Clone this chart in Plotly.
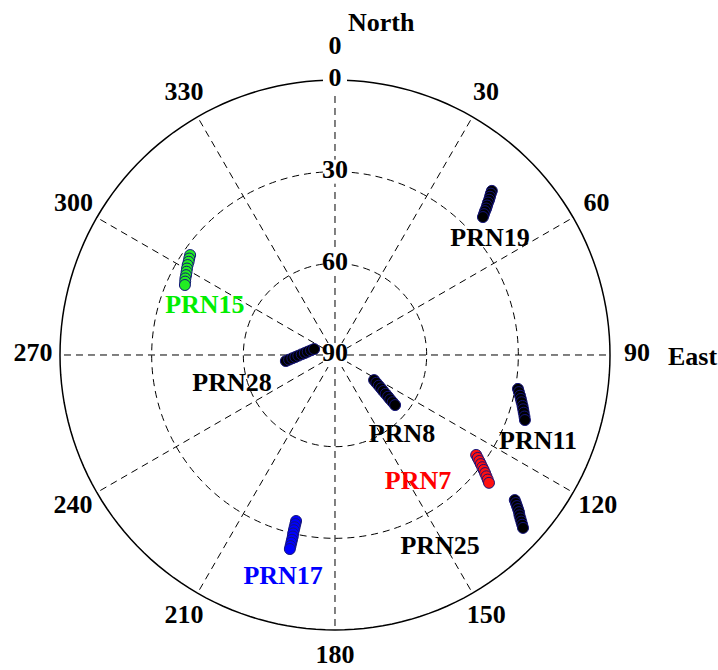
import plotly.graph_objects as go

# Satellite tracks: azimuth (deg, clockwise from North) and elevation (deg)
prn19_az = [43.7, 44.0, 44.4, 44.8, 45.1, 45.5, 45.9, 46.2, 46.6, 47.0]
prn19_el = [15.7, 16.6, 17.5, 18.4, 19.3, 20.2, 21.1, 22.0, 22.9, 23.8]

prn15_az = [304.6, 303.5, 302.5, 301.4, 300.3, 299.3, 298.2, 297.1, 296.1, 295.0]
prn15_el = [32.4, 32.8, 33.2, 33.5, 33.9, 34.3, 34.7, 35.0, 35.4, 35.8]

prn28_az = [263.0, 264.2, 265.6, 267.1, 268.9, 271.2, 273.8, 276.9, 281.0, 285.9]
prn28_el = [73.8, 74.9, 76.0, 77.0, 78.0, 79.1, 80.1, 81.0, 82.0, 82.9]

prn8_az = [122.7, 123.9, 125.0, 125.9, 126.8, 127.5, 128.2, 128.8, 129.3, 129.8]
prn8_el = [74.8, 73.7, 72.5, 71.4, 70.3, 69.1, 67.9, 66.8, 65.6, 64.4]

prn11_az = [100.5, 101.4, 102.4, 103.3, 104.2, 105.2, 106.1, 107.0, 108.0, 108.9]
prn11_el = [29.1, 28.6, 28.0, 27.5, 27.0, 26.4, 25.9, 25.4, 24.8, 24.3]

prn7_az = [125.3, 125.8, 126.3, 126.8, 127.3, 127.7, 128.2, 128.7, 129.2, 129.7]
prn7_el = [33.4, 32.4, 31.4, 30.4, 29.4, 28.5, 27.5, 26.5, 25.5, 24.5]

prn25_az = [128.9, 129.3, 129.7, 130.1, 130.5, 131.0, 131.4, 131.8, 132.2, 132.6]
prn25_el = [14.4, 13.5, 12.6, 11.7, 10.8, 10.0, 9.1, 8.2, 7.3, 6.4]

prn17_az = [193.2, 193.2, 193.2, 193.2, 193.2, 193.1, 193.1, 193.1, 193.1, 193.1]
prn17_el = [34.2, 33.2, 32.1, 31.1, 30.0, 29.0, 27.9, 26.9, 25.8, 24.8]

# Label positions (azimuth, elevation) and colours
label_names = ["PRN19", "PRN15", "PRN28", "PRN8", "PRN11", "PRN7", "PRN25", "PRN17"]
label_az = [53.4, 290.3, 253.8, 140.1, 113.4, 147.0, 151.4, 193.1]
label_el = [26.8, 44.6, 54.9, 55.8, 17.6, 40.1, 18.1, 15.1]
label_colors = ["#000000", "#00ee00", "#000000", "#000000", "#000000", "#ff0000", "#000000", "#0000ff"]

# Azimuth tick labels, written just outside the horizon circle
az_ticks = [0, 30, 60, 90, 120, 150, 180, 210, 240, 270, 300, 330]
az_ticktext = ["0", "30", "60", "90", "120", "150", "180", "210", "240", "270", "300", "330"]
az_label_el = [-10.8, -8.8, -8.8, -8.8, -9.3, -9.0, -8.6, -8.8, -9.0, -8.8, -8.8, -8.8]

# Elevation tick labels along the North direction
el_ticks = [0, 30, 60, 90]

FONT = "Liberation Serif, Times New Roman, serif"
R_MAX = 101.0  # radial extent (zenith distance) incl. room for azimuth labels
DASH = "7px,5px"

tracks = [
    (prn19_az, prn19_el, "#000000"),
    (prn15_az, prn15_el, "#22ee22"),
    (prn28_az, prn28_el, "#000000"),
    (prn8_az, prn8_el, "#000000"),
    (prn11_az, prn11_el, "#000000"),
    (prn7_az, prn7_el, "#ff1010"),
    (prn25_az, prn25_el, "#000000"),
    (prn17_az, prn17_el, "#0000ff"),
]

fig = go.Figure()

# Dashed azimuth spokes from zenith to horizon
spoke_theta, spoke_r = [], []
for a in az_ticks:
    spoke_theta += [a, a, None]
    spoke_r += [0, 90, None]
fig.add_trace(go.Scatterpolar(
    theta=spoke_theta, r=spoke_r, mode="lines",
    line=dict(color="black", width=1, dash=DASH),
    showlegend=False, hoverinfo="skip",
))

# Solid horizon circle (elevation 0)
horizon_theta = [i * 2 for i in range(181)]
fig.add_trace(go.Scatterpolar(
    theta=horizon_theta, r=[90] * len(horizon_theta), mode="lines",
    line=dict(color="black", width=1.5),
    showlegend=False, hoverinfo="skip",
))

for az, el, fill in tracks:
    fig.add_trace(go.Scatterpolar(
        theta=az,
        r=[90 - e for e in el],
        mode="markers",
        marker=dict(size=11, color=fill, line=dict(color="#14147a", width=1)),
        showlegend=False,
        hoverinfo="skip",
    ))

# Elevation labels (white box behind each)
fig.add_trace(go.Scatterpolar(
    theta=[0, 0, 0, 0],
    r=[90 - e for e in el_ticks],
    mode="markers+text",
    text=[str(e) for e in el_ticks],
    textposition="middle center",
    textfont=dict(family=FONT, size=26, color="black", weight="bold"),
    marker=dict(symbol="square", size=24, color="white"),
    cliponaxis=False,
    showlegend=False,
    hoverinfo="skip",
))

# Azimuth labels
fig.add_trace(go.Scatterpolar(
    theta=az_ticks,
    r=[90 - e for e in az_label_el],
    mode="text",
    text=az_ticktext,
    textposition="middle center",
    textfont=dict(family=FONT, size=26, color="black", weight="bold"),
    cliponaxis=False,
    showlegend=False,
    hoverinfo="skip",
))

# Satellite name labels
fig.add_trace(go.Scatterpolar(
    theta=label_az,
    r=[90 - e for e in label_el],
    mode="text",
    text=label_names,
    textposition="middle center",
    textfont=dict(family=FONT, size=26, color=label_colors, weight="bold"),
    cliponaxis=False,
    showlegend=False,
    hoverinfo="skip",
))

# Pixel radius of the horizon circle is 275; scale the domain to R_MAX
half = 275 * R_MAX / 90
cx, cy = 335, 355
fig.update_layout(
    width=718,
    height=670,
    margin=dict(l=0, r=0, t=0, b=0),
    paper_bgcolor="white",
    plot_bgcolor="white",
    polar=dict(
        domain=dict(x=[(cx - half) / 718, (cx + half) / 718],
                    y=[(670 - cy - half) / 670, (670 - cy + half) / 670]),
        bgcolor="white",
        angularaxis=dict(
            rotation=90,
            direction="clockwise",
            showticklabels=False,
            ticks="",
            showline=False,
            showgrid=False,
        ),
        radialaxis=dict(
            range=[0, R_MAX],
            tickmode="array",
            tickvals=[30, 60],
            showticklabels=False,
            ticks="",
            showline=False,
            showgrid=True,
            gridcolor="black",
            gridwidth=1,
            griddash=DASH,
        ),
    ),
    annotations=[
        dict(
            text="North",
            x=381 / 718,
            y=1 - 22 / 670,
            xref="paper",
            yref="paper",
            xanchor="center",
            yanchor="middle",
            showarrow=False,
            font=dict(family=FONT, size=26, color="black", weight="bold"),
        ),
        dict(
            text="East",
            x=692 / 718,
            y=1 - 356 / 670,
            xref="paper",
            yref="paper",
            xanchor="center",
            yanchor="middle",
            showarrow=False,
            font=dict(family=FONT, size=26, color="black", weight="bold"),
        ),
    ],
)

fig.write_html("out.html")
